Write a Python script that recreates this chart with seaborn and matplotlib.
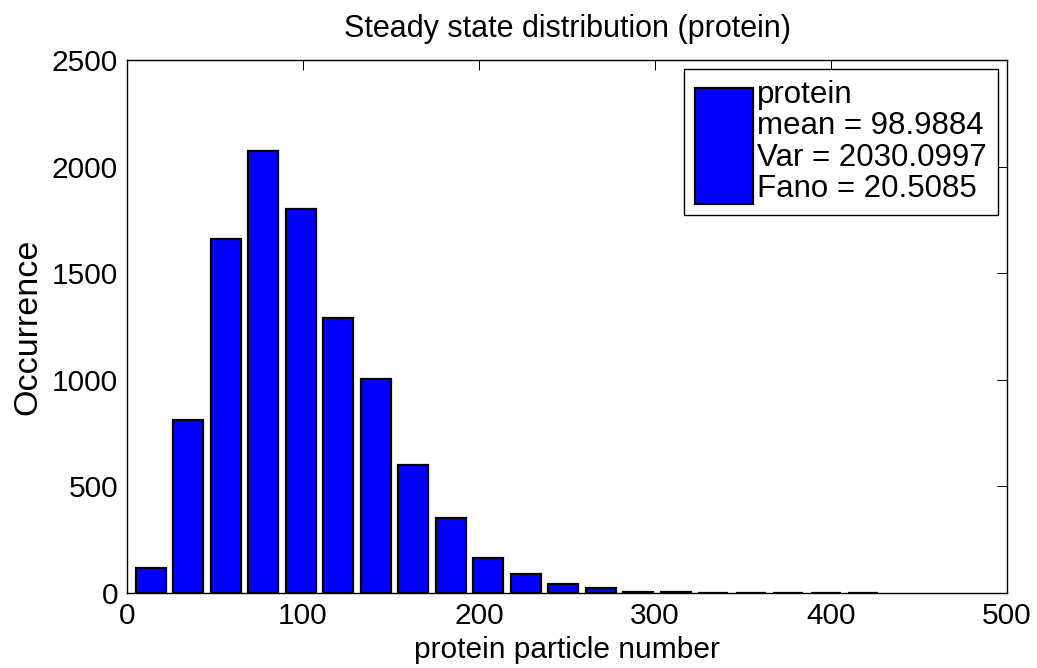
import matplotlib
matplotlib.use("Agg")
import matplotlib.pyplot as plt
import seaborn as sns
import pandas as pd

# Histogram of protein particle numbers (20 bins)
bin_centers = [13.6, 34.9, 56.2, 77.5, 98.8, 120.1, 141.4, 162.7, 184.0, 205.3,
               226.6, 247.9, 269.2, 290.5, 311.8, 333.1, 354.4, 375.7, 397.0, 418.3]
occurrence = [117, 812, 1659, 2072, 1801, 1289, 1005, 602, 352, 164,
              89, 44, 23, 4, 3, 2, 2, 1, 0, 1]

x_ticks = [0, 100, 200, 300, 400, 500]
y_ticks = [0, 500, 1000, 1500, 2000, 2500]

legend_text = "protein\nmean = 98.9884\nVar = 2030.0997\nFano = 20.5085"
title_text = "Steady state distribution (protein)"
x_label = "protein particle number"
y_label = "Occurrence"

df = pd.DataFrame({"center": bin_centers, "count": occurrence})

sns.set_style("white")
plt.rcParams["font.family"] = ["Liberation Sans", "DejaVu Sans"]
plt.rcParams["text.color"] = "black"
plt.rcParams["axes.labelcolor"] = "black"

fig = plt.figure(figsize=(10.37, 6.68), dpi=100)
ax = fig.add_axes([0.1225, 0.1123, 0.8486, 0.798])

sns.barplot(data=df, x="center", y="count", native_scale=True, width=0.8,
            color="#0000ff", saturation=1, edgecolor="black", linewidth=1.6,
            errorbar=None, ax=ax)

ax.set_xlim(0, 500)
ax.set_ylim(0, 2500)
ax.set_xticks(x_ticks)
ax.set_xticklabels([str(t) for t in x_ticks])
ax.set_yticks(y_ticks)
ax.set_yticklabels([str(t) for t in y_ticks])
ax.tick_params(direction="in", length=7, width=0.7, top=True, right=True,
               labelsize=21.5, colors="black", pad=6.5)
for s in ax.spines.values():
    s.set_visible(True)
    s.set_color("black")
    s.set_linewidth(1.0)

ax.set_title(title_text, fontsize=22, pad=16.5, color="black")
ax.set_xlabel(x_label, fontsize=21.5, labelpad=4, color="black")
ax.set_ylabel(y_label, fontsize=24.5, labelpad=6, color="black")

leg = ax.legend([ax.patches[0]], [legend_text], loc="upper right",
                fontsize=22.5, frameon=True, fancybox=False, framealpha=1,
                edgecolor="black", handlelength=1.86, handleheight=5.3,
                handletextpad=0.13, borderpad=0.35, labelspacing=0.2,
                borderaxespad=0.3)
leg.get_frame().set_linewidth(1.0)
for t in leg.get_texts():
    t.set_linespacing(1.05)
    t.set_color("black")

fig.savefig("out.png", dpi=100)
